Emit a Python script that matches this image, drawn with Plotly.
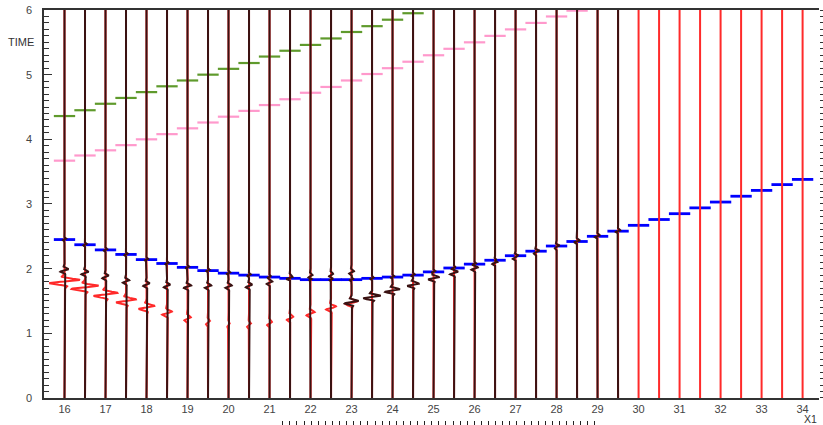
import numpy as np
import plotly.graph_objects as go

# ---------------- data ----------------
trace_x = [16.0, 16.5, 17.0, 17.5, 18.0, 18.5, 19.0, 19.5, 20.0, 20.5, 21.0, 21.5,
           22.0, 22.5, 23.0, 23.5, 24.0, 24.5, 25.0, 25.5, 26.0, 26.5, 27.0, 27.5,
           28.0, 28.5, 29.0, 29.5, 30.0, 30.5, 31.0, 31.5, 32.0, 32.5, 33.0, 33.5, 34.0]
dark_trace_x = trace_x[:28]          # dark traces up to 29.5, red traces everywhere

x_tick_vals = [16, 17, 18, 19, 20, 21, 22, 23, 24, 25, 26, 27, 28, 29, 30, 31, 32, 33, 34]
y_tick_vals = [0, 1, 2, 3, 4, 5, 6]

# picked times (horizontal dashes)
blue_t = [2.45, 2.37, 2.29, 2.22, 2.14, 2.08, 2.02, 1.97, 1.93, 1.90, 1.87, 1.85,
          1.83, 1.83, 1.83, 1.85, 1.87, 1.90, 1.95, 2.01, 2.07, 2.13, 2.20, 2.27,
          2.35, 2.42, 2.50, 2.58, 2.67, 2.76, 2.85, 2.94, 3.03, 3.12, 3.21, 3.30, 3.38]
pink_x = trace_x[:26]
pink_t = [3.67, 3.75, 3.83, 3.91, 4.00, 4.08, 4.17, 4.26, 4.35, 4.44, 4.53, 4.62,
          4.72, 4.81, 4.91, 5.01, 5.10, 5.20, 5.30, 5.40, 5.50, 5.60, 5.70, 5.80,
          5.90, 5.99]
green_x = trace_x[:18]
green_t = [4.36, 4.45, 4.55, 4.64, 4.73, 4.82, 4.91, 5.00, 5.09, 5.18, 5.28, 5.37,
           5.46, 5.56, 5.66, 5.75, 5.85, 5.95]

# wiggle events: red traces
red_ev_x = trace_x[:15]
red_ev_t = [1.80, 1.71, 1.60, 1.50, 1.40, 1.31, 1.22, 1.16, 1.12, 1.12, 1.15, 1.23, 1.30, 1.39, 1.47]
red_ev_a = [0.37, 0.33, 0.29, 0.24, 0.19, 0.12, 0.08, 0.05, 0.03, 0.05, 0.06, 0.08, 0.10, 0.12, 0.14]

# wiggle events: dark traces
dark_ev1_x = trace_x[:15]
dark_ev1_t = [1.97, 1.93, 1.87, 1.80, 1.75, 1.73, 1.72, 1.72, 1.72, 1.73, 1.78, 1.86, 1.88, 1.90, 1.94]
dark_ev1_a = [0.10, 0.09, 0.08, 0.08, 0.08, 0.08, 0.09, 0.08, 0.08, 0.08, 0.07, 0.05, 0.05, 0.05, 0.06]

dark_ev2_x = trace_x[14:28]
dark_ev2_t = [1.48, 1.56, 1.66, 1.75, 1.85, 1.93, 2.00, 2.09, 2.17, 2.25, 2.33, 2.42, 2.50, 2.58]
dark_ev2_a = [0.17, 0.21, 0.18, 0.14, 0.13, 0.10, 0.08, 0.07, 0.07, 0.06, 0.05, 0.04, 0.03, 0.02]

dark_ev3_x = dark_trace_x            # small kinks at the blue picks
dark_ev3_t = blue_t[:28]
dark_ev3_a = [0.04] * 28

# ---------------- build ----------------
t = np.arange(0.0, 6.0001, 0.004)


def wavelet(t0, period, sigma):
    tau = t - t0
    return np.exp(-(tau / sigma) ** 2) * np.sin(2 * np.pi * tau / period)


def norm_const(period, sigma):
    tau = np.linspace(-1, 1, 4001)
    return np.max(np.abs(np.exp(-(tau / sigma) ** 2) * np.sin(2 * np.pi * tau / period)))


def build_wiggles(positions, events):
    xs, ys = [], []
    for x0 in positions:
        disp = np.zeros_like(t)
        for ex_l, et_l, ea_l, period, sigma in events:
            nc = norm_const(period, sigma)
            for ex, et, ea in zip(ex_l, et_l, ea_l):
                if ex == x0:
                    disp += ea * wavelet(et, period, sigma) / nc
        xs.extend((x0 + disp).tolist())
        xs.append(None)
        ys.extend(t.tolist())
        ys.append(None)
    return xs, ys


HALF = 0.26


def build_dashes(xv, tv):
    xs, ys = [], []
    for x0, t0 in zip(xv, tv):
        xs += [x0 - HALF, x0 + HALF, None]
        ys += [t0, t0, None]
    return xs, ys


fig = go.Figure()

for xv, tv, col, w in [(pink_x, pink_t, "#ff99cc", 2.2),
                       (green_x, green_t, "#5f9a2c", 2.2),
                       (trace_x, blue_t, "#0000ff", 2.8)]:
    dx, dy = build_dashes(xv, tv)
    fig.add_trace(go.Scatter(x=dx, y=dy, mode="lines", line=dict(color=col, width=w),
                             hoverinfo="skip", showlegend=False))

rx, ry = build_wiggles(trace_x, [(red_ev_x, red_ev_t, red_ev_a, 0.12, 0.06)])
fig.add_trace(go.Scatter(x=rx, y=ry, mode="lines", line=dict(color="#ff2a2a", width=2),
                         hoverinfo="skip", showlegend=False))

kx, ky = build_wiggles(dark_trace_x, [(dark_ev1_x, dark_ev1_t, dark_ev1_a, 0.09, 0.05),
                                      (dark_ev2_x, dark_ev2_t, dark_ev2_a, 0.09, 0.05),
                                      (dark_ev3_x, dark_ev3_t, dark_ev3_a, 0.06, 0.025)])
fig.add_trace(go.Scatter(x=kx, y=ky, mode="lines", line=dict(color="#3a1212", width=2),
                         hoverinfo="skip", showlegend=False))

# dummy traces so that the extra axes are drawn
fig.add_trace(go.Scatter(x=[None], y=[None], xaxis="x", yaxis="y2", showlegend=False, hoverinfo="skip"))
fig.add_trace(go.Scatter(x=[None], y=[None], xaxis="x2", yaxis="y", showlegend=False, hoverinfo="skip"))

axis_col = "#333333"
fig.update_layout(
    width=823, height=425, autosize=False,
    margin=dict(l=44, r=4, t=10, b=3, autoexpand=False),
    paper_bgcolor="white", plot_bgcolor="rgba(0,0,0,0)",
    showlegend=False,
    font=dict(family="Liberation Sans, Arial, sans-serif", size=11, color="#444444"),
    xaxis=dict(range=[15.5, 34.4], tickvals=x_tick_vals, ticks="", showline=True,
               linecolor=axis_col, linewidth=1.5, mirror=True, showgrid=False,
               zeroline=False, anchor="y", automargin=False),
    yaxis=dict(range=[0, 6], domain=[0.0583, 1], tickvals=y_tick_vals, ticks="inside",
               ticklen=8, tickwidth=1.3, tickcolor=axis_col,
               minor=dict(ticks="inside", ticklen=5, dtick=0.1, tickcolor=axis_col,
                          tickwidth=1.3, showgrid=False),
               showline=True, linecolor=axis_col, linewidth=1.5, showgrid=False,
               zeroline=False, ticklabelstandoff=8, automargin=False),
    yaxis2=dict(overlaying="y", side="right", range=[0, 6], tickvals=y_tick_vals,
                ticks="outside", ticklen=8, tickwidth=1.3, tickcolor=axis_col,
                minor=dict(ticks="outside", ticklen=5, dtick=0.1, tickcolor=axis_col,
                           tickwidth=1.3, showgrid=False),
                showticklabels=False, showgrid=False, zeroline=False, showline=False,
                automargin=False),
    xaxis2=dict(domain=[0.308, 0.711], anchor="free", position=0.005,
                range=[-0.01, 44.01], dtick=1, ticks="outside", ticklen=7, tickwidth=1.3,
                tickcolor="#222222", showticklabels=False, showgrid=False,
                zeroline=False, showline=False, automargin=False),
    annotations=[
        dict(text="TIME", xref="paper", yref="y", x=-0.049, y=5.5, showarrow=False,
             font=dict(size=11, color="#333333"), xanchor="left", yanchor="middle"),
        dict(text="X1", xref="paper", yref="paper", x=1.0, y=0.008, showarrow=False,
             font=dict(size=10.5, color="#333333"), xanchor="right", yanchor="middle"),
    ],
)

fig.write_html(
    "out.html",
    config={"responsive": False, "displayModeBar": False},
    default_width="823px",
    default_height="425px",
    post_script="document.body.style.margin='0';document.body.style.overflow='hidden';",
)
